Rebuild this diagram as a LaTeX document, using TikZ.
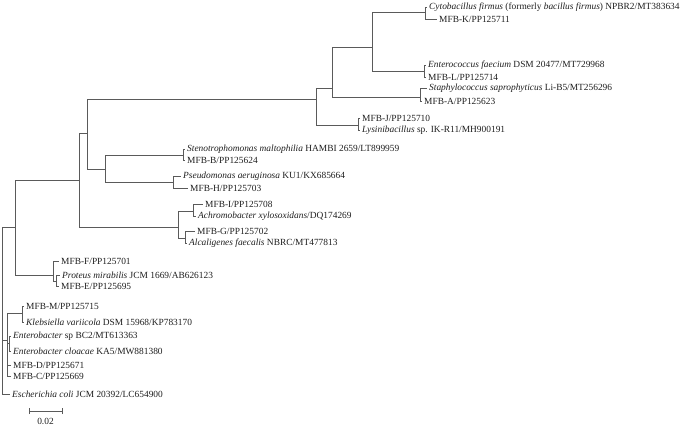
\documentclass[tikz,border=0pt]{standalone}
\usepackage{fontspec}
\setmainfont{Liberation Serif}
\definecolor{branch}{HTML}{5A5A5A}
\definecolor{txt}{HTML}{1E1E1E}
\begin{document}
\begin{tikzpicture}[x=1pt,y=-1pt,
  leaf/.style={anchor=west,inner xsep=2.5pt,inner ysep=0pt,text=txt,font=\fontsize{9.4}{11}\selectfont},
  br/.style={draw=branch,line width=0.9pt}]
\useasboundingbox (0,0) rectangle (683,426);
% internal nodes
\coordinate (R) at (2,227);
\coordinate (A) at (15,227);
\coordinate (B) at (79,180);
\coordinate (C) at (87,133);
\coordinate (D) at (316,99);
\coordinate (E) at (332,88);
\coordinate (F) at (372,47);
\coordinate (Cy) at (425,12);
\coordinate (En) at (424.5,71);
\coordinate (St) at (420,97);
\coordinate (J) at (358,125);
\coordinate (S) at (105,169);
\coordinate (Sn) at (183,155);
\coordinate (Ps) at (173,182);
\coordinate (H) at (178,227);
\coordinate (H1) at (193,211);
\coordinate (H2) at (185,238);
\coordinate (P) at (53,275);
\coordinate (P2) at (56,281);
\coordinate (E1) at (7,340);
\coordinate (K) at (22,313);
\coordinate (E2) at (9,343);
% leaves
\node[leaf] (l1) at (426.5,7) {\textit{Cytobacillus firmus} (formerly \textit{bacillus firmus}) NPBR2/MT383634};
\node[leaf] (l2) at (436.5,19) {MFB-K/PP125711};
\node[leaf] (l3) at (425.5,65) {\textit{Enterococcus faecium} DSM 20477/MT729968};
\node[leaf] (l4) at (425.5,77) {MFB-L/PP125714};
\node[leaf] (l5) at (426.5,88) {\textit{Staphylococcus saprophyticus} Li-B5/MT256296};
\node[leaf] (l6) at (421.5,101) {MFB-A/PP125623};
\node[leaf] (l7) at (359.5,118) {MFB-J/PP125710};
\node[leaf] (l8) at (359.5,130) {\textit{Lysinibacillus} sp. IK-R11/MH900191};
\node[leaf] (l9) at (184.5,149) {\textit{Stenotrophomonas maltophilia} HAMBI 2659/LT899959};
\node[leaf] (l10) at (184.5,160) {MFB-B/PP125624};
\node[leaf] (l11) at (180.5,176) {\textit{Pseudomonas aeruginosa} KU1/KX685664};
\node[leaf] (l12) at (187.5,188) {MFB-H/PP125703};
\node[leaf] (l13) at (202.5,204) {MFB-I/PP125708};
\node[leaf] (l14) at (195.5,216) {\textit{Achromobacter xylosoxidans}/DQ174269};
\node[leaf] (l15) at (194.5,231) {MFB-G/PP125702};
\node[leaf] (l16) at (186.5,243) {\textit{Alcaligenes faecalis} NBRC/MT477813};
\node[leaf] (l17) at (58.5,261) {MFB-F/PP125701};
\node[leaf] (l18) at (59.5,275) {\textit{Proteus mirabilis} JCM 1669/AB626123};
\node[leaf] (l19) at (58.5,286) {MFB-E/PP125695};
\node[leaf] (l20) at (23.5,306) {MFB-M/PP125715};
\node[leaf] (l21) at (23.5,322) {\textit{Klebsiella variicola} DSM 15968/KP783170};
\node[leaf] (l22) at (10.5,336) {\textit{Enterobacter} sp BC2/MT613363};
\node[leaf] (l23) at (10.5,351) {\textit{Enterobacter cloacae} KA5/MW881380};
\node[leaf] (l24) at (10.5,365) {MFB-D/PP125671};
\node[leaf] (l25) at (10.5,376) {MFB-C/PP125669};
\node[leaf] (l26) at (9.5,394) {\textit{Escherichia coli} JCM 20392/LC654900};
% branches
\draw[br] (R) |- (A);
\draw[br] (R) |- (E1);
\draw[br] (R) |- (l26.west);
\draw[br] (A) |- (B);
\draw[br] (A) |- (P);
\draw[br] (B) |- (C);
\draw[br] (B) |- (H);
\draw[br] (C) |- (D);
\draw[br] (C) |- (S);
\draw[br] (D) |- (E);
\draw[br] (D) |- (J);
\draw[br] (E) |- (F);
\draw[br] (E) |- (St);
\draw[br] (F) |- (Cy);
\draw[br] (F) |- (En);
\draw[br] (Cy) |- (l1.west);
\draw[br] (Cy) |- (l2.west);
\draw[br] (En) |- (l3.west);
\draw[br] (En) |- (l4.west);
\draw[br] (St) |- (l5.west);
\draw[br] (St) |- (l6.west);
\draw[br] (J) |- (l7.west);
\draw[br] (J) |- (l8.west);
\draw[br] (S) |- (Sn);
\draw[br] (S) |- (Ps);
\draw[br] (Sn) |- (l9.west);
\draw[br] (Sn) |- (l10.west);
\draw[br] (Ps) |- (l11.west);
\draw[br] (Ps) |- (l12.west);
\draw[br] (H) |- (H1);
\draw[br] (H) |- (H2);
\draw[br] (H1) |- (l13.west);
\draw[br] (H1) |- (l14.west);
\draw[br] (H2) |- (l15.west);
\draw[br] (H2) |- (l16.west);
\draw[br] (P) |- (l17.west);
\draw[br] (P) |- (P2);
\draw[br] (P2) |- (l18.west);
\draw[br] (P2) |- (l19.west);
\draw[br] (E1) |- (K);
\draw[br] (E1) |- (E2);
\draw[br] (E1) |- (l24.west);
\draw[br] (E1) |- (l25.west);
\draw[br] (K) |- (l20.west);
\draw[br] (K) |- (l21.west);
\draw[br] (E2) |- (l22.west);
\draw[br] (E2) |- (l23.west);
% scale bar
\coordinate (sb1) at (29,411);
\coordinate (sb2) at (62,411);
\draw[br] (sb1) -- (sb2);
\draw[br] ([yshift=-3pt]sb1) -- ([yshift=3pt]sb1);
\draw[br] ([yshift=-3pt]sb2) -- ([yshift=3pt]sb2);
\node[leaf,anchor=center] (sbl) at (45.5,421.5) {0.02};
\end{tikzpicture}
\end{document}
